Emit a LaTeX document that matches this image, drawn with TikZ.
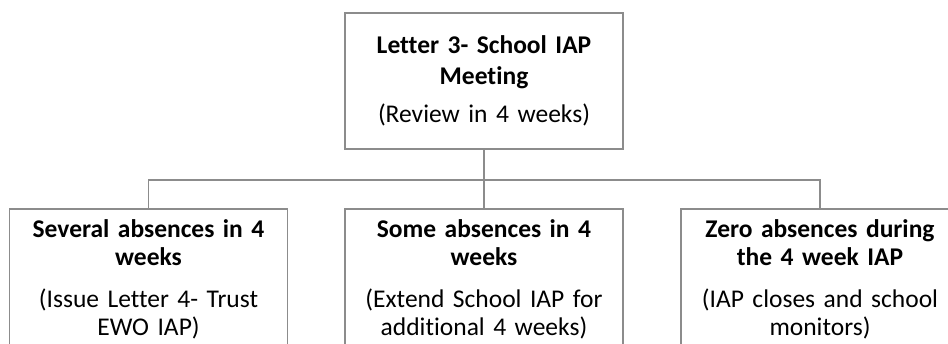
\documentclass[tikz,border=0pt]{standalone}
\usepackage{fontspec}
\setmainfont{Carlito}[Ligatures=NoCommon]
\definecolor{boxgray}{RGB}{140,140,140}

\begin{document}
\begin{tikzpicture}[x=1pt,y=-1pt,
    box/.style={draw=boxgray, line width=1.8pt, align=center, text width=272pt,
      minimum width=278pt, inner sep=0pt, font=\fontsize{25.5}{28.5}\selectfont},
    link/.style={draw=boxgray, line width=1.8pt}]
    \useasboundingbox (0,0) rectangle (948,343);
    \clip (0,0) rectangle (948,343);
    \node[box, minimum height=136pt] (meet) at (484,81)
      {\textbf{Letter 3- School IAP}\\[2.5pt]\textbf{Meeting}\\[9.5pt](Review in 4 weeks)};
    \node[box, minimum height=140pt] (several) at (148.5,279.25)
      {\textbf{Several absences in 4}\\\textbf{weeks}\\[13pt](Issue Letter 4- Trust\\EWO IAP)};
    \node[box, minimum height=140pt] (some) at (484,279.25)
      {\textbf{Some absences in 4}\\\textbf{weeks}\\[13pt](Extend School IAP for\\additional 4 weeks)};
    \node[box, minimum height=140pt] (zero) at (820,279.25)
      {\textbf{Zero absences during}\\\textbf{the 4 week IAP}\\[13pt](IAP closes and school\\monitors)};
    \coordinate (bar) at (484,180);
    \draw[link] (meet.south) -- (some.north);
    \draw[link] (several.north) |- (bar) -| (zero.north);
  \end{tikzpicture}
\end{document}
